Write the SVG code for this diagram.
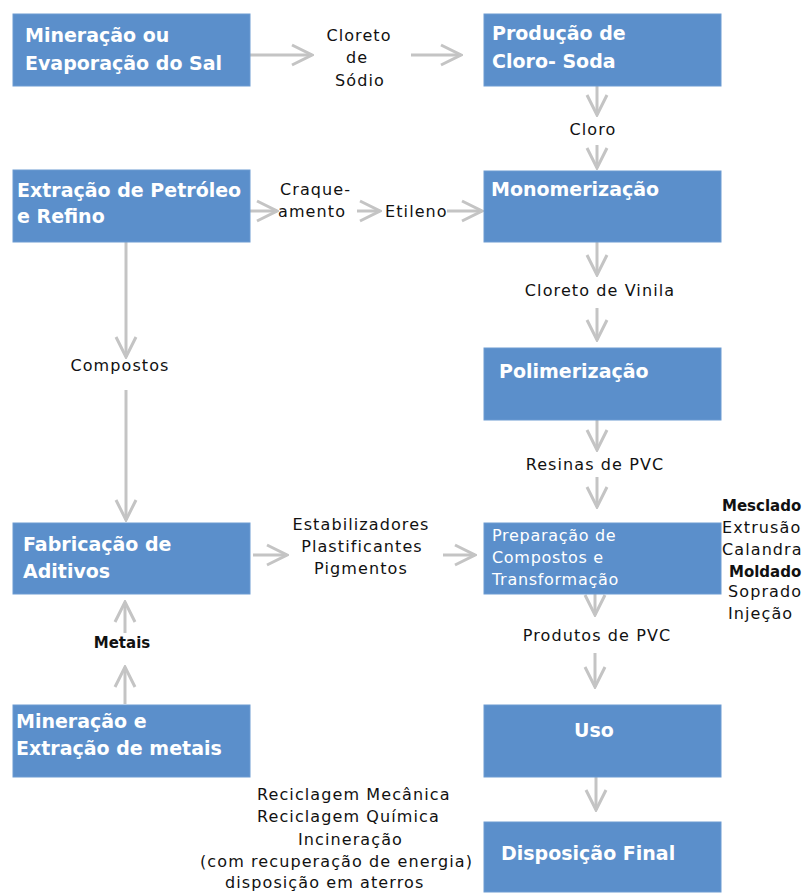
<svg xmlns="http://www.w3.org/2000/svg" width="808" height="895" viewBox="0 0 808 895">
<defs>
<style>
.box{fill:#5b8fcb;stroke:#6d9bd2;stroke-width:1}
.bt{font-family:"DejaVu Sans",Verdana,sans-serif;font-weight:bold;font-size:19px;fill:#ffffff}
.pt{font-family:"DejaVu Sans",Verdana,sans-serif;font-size:16px;fill:#ffffff;letter-spacing:0.7px}
.lb{font-family:"DejaVu Sans",Verdana,sans-serif;font-size:16px;fill:#111111;letter-spacing:1.1px}
.lbb{font-family:"DejaVu Sans",Verdana,sans-serif;font-size:15px;font-weight:bold;fill:#111111}
.c{text-anchor:middle}
.ar{stroke:#c4c4c4;stroke-width:3;fill:none;marker-end:url(#chev)}
</style>
<marker id="chev" markerUnits="userSpaceOnUse" viewBox="-22 -12 24 24" markerWidth="24" markerHeight="24" refX="0" refY="0" orient="auto">
<path d="M-20,-10 L0,0 L-20,10" fill="none" stroke="#c4c4c4" stroke-width="3"/>
</marker>
</defs>
<rect width="808" height="895" fill="#ffffff"/>

<g id="connectors">
<line class="ar" x1="250" y1="55" x2="312" y2="55"/>
<line class="ar" x1="411" y1="55" x2="461" y2="55"/>
<line class="ar" x1="597" y1="86" x2="597" y2="115"/>
<line class="ar" x1="597" y1="145" x2="597" y2="168"/>
<line class="ar" x1="250" y1="211" x2="277" y2="211"/>
<line class="ar" x1="357" y1="211" x2="380" y2="211"/>
<line class="ar" x1="447" y1="211" x2="482" y2="211"/>
<line class="ar" x1="597" y1="242" x2="597" y2="275"/>
<line class="ar" x1="597" y1="308" x2="597" y2="340"/>
<line class="ar" x1="597" y1="420" x2="597" y2="450"/>
<line class="ar" x1="597" y1="477" x2="597" y2="507"/>
<line class="ar" x1="126" y1="242" x2="126" y2="357"/>
<line class="ar" x1="126" y1="390" x2="126" y2="520"/>
<line class="ar" x1="253" y1="555" x2="287" y2="555"/>
<line class="ar" x1="443" y1="555" x2="475" y2="555"/>
<line class="ar" x1="595" y1="594" x2="595" y2="615"/>
<line class="ar" x1="595" y1="653" x2="595" y2="687"/>
<line class="ar" x1="596" y1="777" x2="596" y2="810"/>
<line class="ar" x1="125" y1="633" x2="125" y2="602"/>
<line class="ar" x1="125" y1="704" x2="125" y2="667"/>
</g>

<g id="n-mineracao-sal">
<rect class="box" x="13" y="14" width="237" height="72"/>
<text class="bt" x="25" y="42">Mineração ou</text>
<text class="bt" x="25" y="70">Evaporação do Sal</text>
</g>
<g id="n-cloro-soda">
<rect class="box" x="484" y="14" width="237" height="72"/>
<text class="bt" x="492" y="40">Produção de</text>
<text class="bt" x="492" y="68">Cloro- Soda</text>
</g>
<g id="n-petroleo">
<rect class="box" x="13" y="170" width="237" height="72"/>
<text class="bt" x="17" y="197">Extração de Petróleo</text>
<text class="bt" x="17" y="223">e Refino</text>
</g>
<g id="n-monomerizacao">
<rect class="box" x="484" y="171" width="237" height="71"/>
<text class="bt" x="491" y="196">Monomerização</text>
</g>
<g id="n-polimerizacao">
<rect class="box" x="484" y="348" width="237" height="72"/>
<text class="bt" x="499" y="378">Polimerização</text>
</g>
<g id="n-aditivos">
<rect class="box" x="13" y="523" width="237" height="71"/>
<text class="bt" x="23" y="551">Fabricação de</text>
<text class="bt" x="23" y="578">Aditivos</text>
</g>
<g id="n-preparacao">
<rect class="box" x="484" y="523" width="237" height="71"/>
<text class="pt" x="492" y="541">Preparação de</text>
<text class="pt" x="492" y="563">Compostos e</text>
<text class="pt" x="492" y="585">Transformação</text>
</g>
<g id="n-metais">
<rect class="box" x="13" y="705" width="237" height="72"/>
<text class="bt" x="16" y="728">Mineração e</text>
<text class="bt" x="16" y="755">Extração de metais</text>
</g>
<g id="n-uso">
<rect class="box" x="484" y="705" width="237" height="72"/>
<text class="bt c" x="594" y="737">Uso</text>
</g>
<g id="n-disposicao">
<rect class="box" x="484" y="822" width="237" height="70"/>
<text class="bt" x="501" y="860">Disposição Final</text>
</g>

<g id="labels">
<text class="lb c" x="359" y="41">Cloreto</text>
<text class="lb c" x="357" y="63">de</text>
<text class="lb c" x="360" y="86">Sódio</text>
<text class="lb c" x="593" y="135">Cloro</text>
<text class="lb" x="280" y="195">Craque-</text>
<text class="lb" x="278" y="217">amento</text>
<text class="lb" x="385" y="217">Etileno</text>
<text class="lb c" x="600" y="296">Cloreto de Vinila</text>
<text class="lb c" x="120" y="371">Compostos</text>
<text class="lb c" x="595" y="470">Resinas de PVC</text>
<text class="lb c" x="361" y="530">Estabilizadores</text>
<text class="lb c" x="362" y="552">Plastificantes</text>
<text class="lb c" x="361" y="574">Pigmentos</text>
<text class="lbb" x="722" y="511">Mesclado</text>
<text class="lb" x="722" y="533">Extrusão</text>
<text class="lb" x="722" y="555">Calandra</text>
<text class="lbb" x="729" y="577">Moldado</text>
<text class="lb" x="728" y="597">Soprado</text>
<text class="lb" x="728" y="619">Injeção</text>
<text class="lb c" x="597" y="641">Produtos de PVC</text>
<text class="lbb c" x="122" y="648">Metais</text>
<text class="lb" x="257" y="800">Reciclagem Mecânica</text>
<text class="lb" x="257" y="822">Reciclagem Química</text>
<text class="lb" x="298" y="845">Incineração</text>
<text class="lb" x="200" y="867">(com recuperação de energia)</text>
<text class="lb" x="225" y="888">disposição em aterros</text>
</g>
</svg>
